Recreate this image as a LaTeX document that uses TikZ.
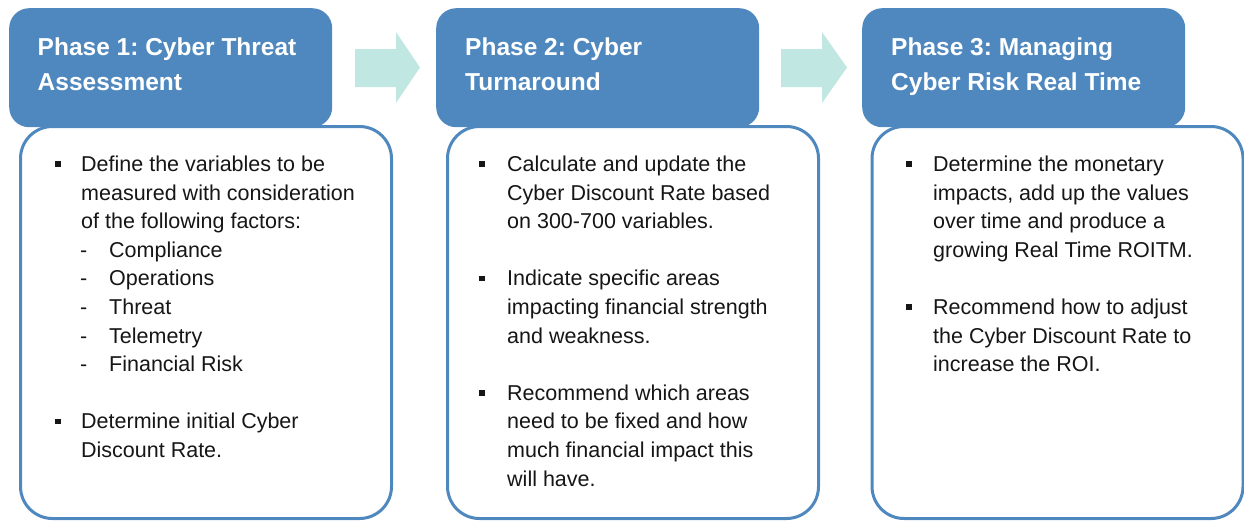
\documentclass[tikz,border=0pt]{standalone}
\usepackage{fontspec}
\setmainfont{Liberation Sans}
\frenchspacing
\definecolor{hblue}{RGB}{79,136,190}
\definecolor{aqua}{RGB}{193,231,226}
\definecolor{txt}{RGB}{22,22,22}
\newcommand\bline[4]{\node[btxt] (#1) at (#2,{171.5+28.6*#3}) {#4};}
\newcommand\bmark[3]{\node[bul] (#1) at (#2,{164+28.6*#3}) {};}
\begin{document}
\begin{tikzpicture}[x=1pt,y=-1pt,
  headbox/.style={fill=hblue, draw=none, rounded corners=20pt, minimum width=323pt, minimum height=119pt, anchor=north west, inner sep=0},
  bodybox/.style={draw=hblue, line width=3pt, fill=white, rounded corners=32pt, minimum width=371pt, minimum height=392pt, anchor=north west, inner sep=0},
  htxt/.style={anchor=base west, inner sep=0, text=white, font=\fontsize{24.5}{30}\selectfont\bfseries},
  btxt/.style={anchor=base west, inner sep=0, text=txt, font=\fontsize{21.5}{28}\selectfont},
  bul/.style={fill=txt, minimum size=5.5pt, inner sep=0, draw=none},
  blockarrow/.style={fill=aqua, draw=none}]
\useasboundingbox (0,0) rectangle (1244,520);

% body boxes
\node[bodybox] (b1) at (19,125) {};
\node[bodybox] (b2) at (446,125) {};
\node[bodybox] (b3) at (870.5,125) {};

% header boxes
\node[headbox] (h1) at (9,8) {};
\node[headbox] (h2) at (436,8) {};
\node[headbox] (h3) at (862,8) {};

% block arrows
\fill[blockarrow] (355,49) -- (396,49) -- (396,32) -- (420,67.5) -- (396,103) -- (396,87) -- (355,87) -- cycle;
\fill[blockarrow] (781,49) -- (822,49) -- (822,32) -- (847,67.5) -- (822,103) -- (822,87) -- (781,87) -- cycle;

% header texts
\node[htxt] (h1a) at (37.5,55) {Phase 1: Cyber Threat};
\node[htxt] (h1b) at (37.5,90) {Assessment};
\node[htxt] (h2a) at (465,55) {Phase 2: Cyber};
\node[htxt] (h2b) at (465,90) {Turnaround};
\node[htxt] (h3a) at (891,55) {Phase 3: Managing};
\node[htxt] (h3b) at (891,90) {Cyber Risk Real Time};

% column 1
\bmark{m1a}{58}{0}
\bline{c1a}{81}{0}{Define the variables to be}
\bline{c1b}{81}{1}{measured with consideration}
\bline{c1c}{81}{2}{of the following factors:}
\bline{d1}{80}{3}{-}\bline{c1d}{109}{3}{Compliance}
\bline{d2}{80}{4}{-}\bline{c1e}{109}{4}{Operations}
\bline{d3}{80}{5}{-}\bline{c1f}{109}{5}{Threat}
\bline{d4}{80}{6}{-}\bline{c1g}{109}{6}{Telemetry}
\bline{d5}{80}{7}{-}\bline{c1h}{109}{7}{Financial Risk}
\bmark{m1b}{58}{9}
\bline{c1i}{81}{9}{Determine initial Cyber}
\bline{c1j}{81}{10}{Discount Rate.}

% column 2
\bmark{m2a}{482}{0}
\bline{c2a}{507}{0}{Calculate and update the}
\bline{c2b}{507}{1}{Cyber Discount Rate based}
\bline{c2c}{507}{2}{on 300-700 variables.}
\bmark{m2b}{482}{4}
\bline{c2d}{507}{4}{Indicate specific areas}
\bline{c2e}{507}{5}{impacting financial strength}
\bline{c2f}{507}{6}{and weakness.}
\bmark{m2c}{482}{8}
\bline{c2g}{507}{8}{Recommend which areas}
\bline{c2h}{507}{9}{need to be fixed and how}
\bline{c2i}{507}{10}{much financial impact this}
\bline{c2j}{507}{11}{will have.}

% column 3
\bmark{m3a}{909}{0}
\bline{c3a}{933}{0}{Determine the monetary}
\bline{c3b}{933}{1}{impacts, add up the values}
\bline{c3c}{933}{2}{over time and produce a}
\bline{c3d}{933}{3}{growing Real Time ROITM.}
\bmark{m3b}{909}{5}
\bline{c3e}{933}{5}{Recommend how to adjust}
\bline{c3f}{933}{6}{the Cyber Discount Rate to}
\bline{c3g}{933}{7}{increase the ROI.}
\end{tikzpicture}
\end{document}
